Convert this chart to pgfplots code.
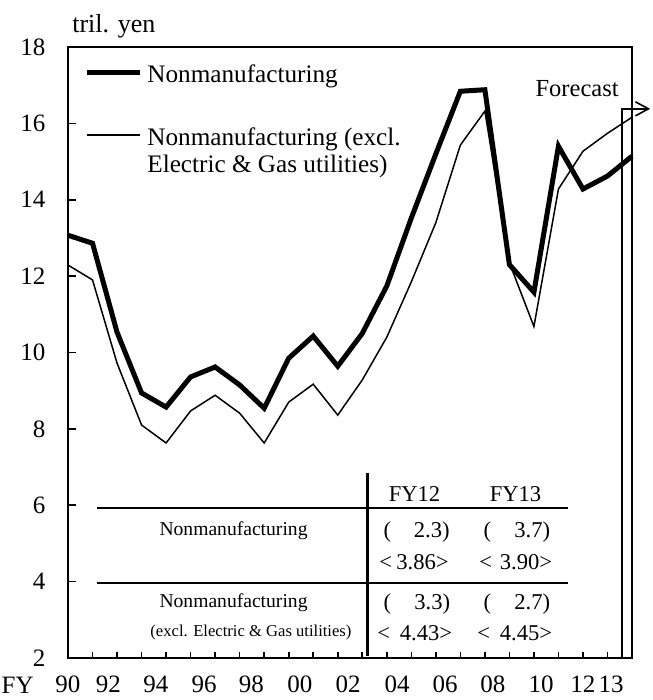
\documentclass[border=0pt]{standalone}
\usepackage{fontspec}
\setmainfont{Liberation Serif}
\usepackage{pgfplots}
\usepackage{pgfplotstable}
\pgfplotsset{compat=1.18}
\usetikzlibrary{arrows.meta}

\pgfplotstableread{
idx nonmfg excl
0 13.07 12.29
1 12.86 11.90
2 10.53 9.72
3 8.94 8.10
4 8.57 7.63
5 9.36 8.47
6 9.62 8.88
7 9.15 8.41
8 8.54 7.63
9 9.85 8.70
10 10.43 9.17
11 9.64 8.36
12 10.50 9.28
13 11.74 10.40
14 13.52 11.85
15 15.20 13.40
16 16.84 15.43
17 16.88 16.32
18 12.30 12.35
19 11.58 10.68
20 15.40 14.28
21 14.28 15.27
22 14.62 15.74
23 15.14 16.16
}\datatable

\newcommand{\lfont}{\fontsize{12.6}{15}\selectfont}
\newcommand{\tfont}{\fontsize{11.3}{13}\selectfont}

\begin{document}
\begin{tikzpicture}
\begin{axis}[
  width=282pt, height=305.5pt, scale only axis,
  xmin=0, xmax=23, ymin=2, ymax=18,
  ytick={2,4,...,18},
  xtick={0,1.65,3.58,5.55,7.48,9.46,11.42,13.42,15.38,17.33,19.29,21.0,22.15},
  xticklabels={90,92,94,96,98,00,02,04,06,08,10,12,13},
  minor xtick={0,...,23},
  tick pos=left, tick align=inside,
  major tick length=4pt, minor tick length=3pt,
  major x tick style={draw=none},
  tick style={black, line width=0.8pt},
  axis line style={line width=0.8pt},
  ticklabel style={font=\fontsize{12.5}{15}\selectfont},
  /pgf/number format/assume math mode=true,
  yticklabel style={xshift=-7.8pt},
  xticklabel style={anchor=base, yshift=-17.5pt},
  clip=false,
]
\path (axis cs:-2.773,0.90) rectangle (axis cs:23.817,19.23);

\addplot[black, line width=2.5pt, mark=none] table[x=idx,y=nonmfg]{\datatable};
\addplot[black, line width=0.75pt, mark=none] table[x=idx,y=excl]{\datatable};

% thicker left and bottom axis lines
\draw[line width=1.4pt] (rel axis cs:0,1) -- (rel axis cs:0,0) -- (rel axis cs:1,0);

% axis annotations
\node[anchor=base west, inner sep=0, font=\fontsize{13}{15}\selectfont] at (axis cs:0.16,18.37) {tril. yen};
\node[anchor=base, inner sep=0, font=\fontsize{12.5}{15}\selectfont] at (axis cs:-2.05,1.08) {FY};

% legend
\draw[line width=2.5pt] (axis cs:0.77,17.34) -- (axis cs:2.94,17.34);
\draw[line width=0.75pt] (axis cs:0.77,15.69) -- (axis cs:2.94,15.69);
\node[anchor=base west, inner sep=0, font=\lfont] at (axis cs:3.22,17.07) {Nonmanufacturing};
\node[anchor=base west, inner sep=0, font=\lfont] at (axis cs:3.22,15.43) {Nonmanufacturing (excl.};
\node[anchor=base west, inner sep=0, font=\lfont] at (axis cs:3.22,14.70) {Electric \& Gas utilities)};

% forecast marker
\node[anchor=base east, inner sep=0, font=\fontsize{12.25}{15}\selectfont] at (axis cs:22.47,16.69) {Forecast};
\draw[line width=0.8pt, -{Straight Barb[length=6.5pt,width=7pt]}] (axis cs:22.59,2) -- (axis cs:22.59,16.38) -- (axis cs:23.74,16.38);

% table
\draw[line width=1.1pt] (axis cs:12.21,6.84) -- (axis cs:12.21,2.05);
\draw[line width=1.3pt] (axis cs:1.18,5.93) -- (axis cs:20.39,5.93);
\draw[line width=1.3pt] (axis cs:1.18,3.96) -- (axis cs:20.39,3.96);
\node[anchor=base, inner sep=0, font=\tfont] at (axis cs:14.13,6.10) {FY12};
\node[anchor=base, inner sep=0, font=\tfont] at (axis cs:18.25,6.10) {FY13};
\node[anchor=base, inner sep=0, font=\fontsize{9.8}{12}\selectfont] at (axis cs:6.75,5.21) {Nonmanufacturing};
\node[anchor=base, inner sep=0, font=\fontsize{9.8}{12}\selectfont] at (axis cs:6.75,3.31) {Nonmanufacturing};
\node[anchor=base, inner sep=0, font=\fontsize{8.3}{10}\selectfont] at (axis cs:7.46,2.55) {(excl. Electric \& Gas utilities)};
% row 1
\node[anchor=base west, inner sep=0, font=\tfont] at (axis cs:12.85,5.16) {(};
\node[anchor=base east, inner sep=0, font=\tfont] at (axis cs:15.58,5.16) {2.3)};
\node[anchor=base west, inner sep=0, font=\tfont] at (axis cs:16.93,5.16) {(};
\node[anchor=base east, inner sep=0, font=\tfont] at (axis cs:19.68,5.16) {3.7)};
% row 2
\node[anchor=base west, inner sep=0, font=\tfont] at (axis cs:12.68,4.32) {<};
\node[anchor=base east, inner sep=0, font=\tfont] at (axis cs:15.54,4.32) {3.86>};
\node[anchor=base west, inner sep=0, font=\tfont] at (axis cs:16.76,4.32) {<};
\node[anchor=base east, inner sep=0, font=\tfont] at (axis cs:19.76,4.32) {3.90>};
% row 3
\node[anchor=base west, inner sep=0, font=\tfont] at (axis cs:12.85,3.28) {(};
\node[anchor=base east, inner sep=0, font=\tfont] at (axis cs:15.60,3.28) {3.3)};
\node[anchor=base west, inner sep=0, font=\tfont] at (axis cs:16.93,3.28) {(};
\node[anchor=base east, inner sep=0, font=\tfont] at (axis cs:19.68,3.28) {2.7)};
% row 4
\node[anchor=base west, inner sep=0, font=\tfont] at (axis cs:12.60,2.45) {<};
\node[anchor=base east, inner sep=0, font=\tfont] at (axis cs:15.68,2.45) {4.43>};
\node[anchor=base west, inner sep=0, font=\tfont] at (axis cs:16.68,2.45) {<};
\node[anchor=base east, inner sep=0, font=\tfont] at (axis cs:19.76,2.45) {4.45>};
\end{axis}
\end{tikzpicture}
\end{document}
